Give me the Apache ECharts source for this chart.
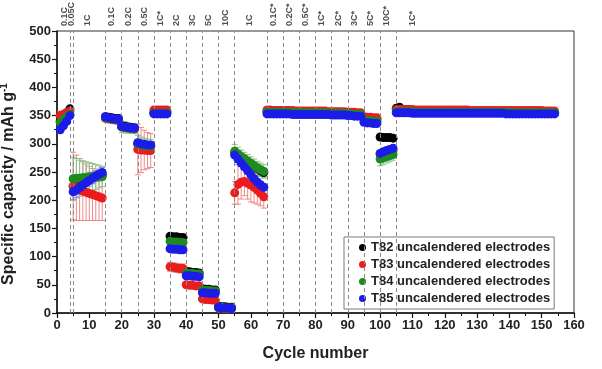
<!DOCTYPE html>
<html><head><meta charset="utf-8">
<script src="https://cdn.jsdelivr.net/npm/echarts@6/dist/echarts.min.js"></script>
<style>html,body{margin:0;padding:0;background:#fff}#c{width:602px;height:369px}</style>
</head><body><div id="c"></div>
<script>
const seriesNames = ['T82 uncalendered electrodes','T83 uncalendered electrodes','T84 uncalendered electrodes','T85 uncalendered electrodes'];
const firstCycle = 1;

const t82 = [340,348,355,362,
 225,228,232,235,237,239,240,242,243,245,
 348,347,346,345,345,
 332,331,330,329,328,
 300,298,297,296,295,
 356,356,357,357,357,
 136,135,135,134,134,
 74,73,72,72,71,
 43,42,42,41,41,
 12,11,11,10,10,
 284,280,276,272,268,264,260,256,252,249,
 358,358,358,358,358,
 358,358,357,357,357,
 357,357,357,357,357,
 357,357,356,356,356,
 356,356,356,355,355,
 354,354,353,353,353,
 345,344,344,343,343,
 312,311,311,311,310,
 363,365,361,360,360,359,359,359,359,359,
 358,358,358,358,358,358,358,358,358,358,
 357,357,357,357,357,357,357,357,357,357,
 357,357,357,357,357,356,356,356,356,356,
 356,356,356,356,356,356,356,356,356,356];

const t83 = [350,352,355,358,
 225,222,219,216,214,212,210,208,206,204,
 345,344,343,342,341,
 330,329,328,327,326,
 290,289,289,288,288,
 360,360,360,360,360,
 82,81,80,79,79,
 50,49,49,48,48,
 25,24,24,23,23,
 9,9,8,8,8,
 213,228,232,233,230,227,223,218,212,206,
 360,360,359,359,359,
 359,359,359,359,358,
 358,358,358,358,358,
 358,358,358,358,357,
 357,357,357,357,357,
 356,356,356,355,355,
 348,347,347,346,346,
 282,284,286,287,288,
 361,361,361,361,361,361,360,360,360,360,
 360,360,360,360,360,360,360,360,360,360,
 360,360,360,359,359,359,359,359,359,359,
 359,359,359,359,359,359,359,359,359,359,
 359,359,359,359,359,359,358,358,358,358];

const t84 = [338,343,348,352,
 238,239,239,240,240,241,241,241,242,242,
 346,345,344,343,343,
 330,329,328,327,327,
 300,298,297,296,296,
 354,354,354,354,354,
 127,126,126,125,125,
 71,70,70,69,69,
 41,40,40,39,39,
 10,10,9,9,9,
 287,282,277,273,269,265,261,257,254,251,
 356,356,356,356,356,
 356,356,356,355,355,
 355,355,355,355,355,
 355,355,355,355,354,
 354,354,354,354,354,
 353,353,352,352,352,
 342,341,341,340,340,
 273,275,277,279,281,
 357,357,357,357,357,357,357,356,356,356,
 356,356,356,356,356,356,356,356,356,356,
 356,356,356,356,356,356,356,356,356,356,
 356,356,356,356,356,355,355,355,355,355,
 355,355,355,355,355,355,355,355,355,355];

const t85 = [325,332,340,350,
 215,218,222,227,231,235,239,243,246,249,
 348,346,345,344,344,
 331,330,329,328,328,
 302,300,299,298,298,
 353,353,353,353,353,
 114,113,113,112,112,
 66,66,65,65,64,
 36,36,35,35,35,
 10,9,9,9,8,
 280,273,266,259,252,245,238,232,227,223,
 353,353,353,353,353,
 353,353,353,352,352,
 352,352,352,352,352,
 352,352,352,352,352,
 351,351,351,351,351,
 350,350,349,349,349,
 338,337,337,336,336,
 283,286,288,290,292,
 355,355,355,355,355,354,354,354,354,354,
 354,354,354,354,354,354,354,354,354,354,
 354,354,354,354,354,354,354,354,354,354,
 354,354,354,354,353,353,353,353,353,353,
 353,353,353,353,353,353,353,353,353,353];

const err82 = [4,4,4,4,
 12,12,11,11,10,10,10,9,9,9,
 3,3,3,3,3, 4,4,4,4,4, 6,6,6,6,6, 2,2,2,2,2,
 4,4,4,4,4, 3,3,3,3,3, 2,2,2,2,2, 1,1,1,1,1,
 8,8,8,8,8,8,8,8,8,8,
 2,2,2,2,2, 2,2,2,2,2, 2,2,2,2,2, 2,2,2,2,2,
 2,2,2,2,2, 2,2,2,2,2, 3,3,3,3,3, 4,4,4,4,4,
 2,2,2,2,2,2,2,2,2,2, 2,2,2,2,2,2,2,2,2,2, 2,2,2,2,2,2,2,2,2,2,
 2,2,2,2,2,2,2,2,2,2, 2,2,2,2,2,2,2,2,2,2];

const err83 = [8,6,5,5,
 60,58,55,52,50,48,46,44,42,40,
 5,5,5,5,5, 5,5,5,5,5, 45,40,35,32,30, 3,3,3,3,3,
 8,8,8,8,8, 5,5,5,5,5, 4,4,4,4,4, 3,3,3,3,3,
 20,35,30,25,28,30,28,25,22,20,
 2,2,2,2,2, 2,2,2,2,2, 2,2,2,2,2, 2,2,2,2,2,
 2,2,2,2,2, 2,2,2,2,2, 3,3,3,3,3, 5,5,5,5,5,
 2,2,2,2,2,2,2,2,2,2, 2,2,2,2,2,2,2,2,2,2, 2,2,2,2,2,2,2,2,2,2,
 2,2,2,2,2,2,2,2,2,2, 2,2,2,2,2,2,2,2,2,2];

const err84 = [5,5,5,5,
 38,35,32,30,28,26,24,22,20,18,
 5,5,5,5,5, 10,10,9,9,8, 15,14,13,12,12, 3,3,3,3,3,
 5,5,5,5,5, 4,4,4,4,4, 3,3,3,3,3, 2,2,2,2,2,
 12,12,12,12,12,12,12,12,12,12,
 2,2,2,2,2, 2,2,2,2,2, 2,2,2,2,2, 2,2,2,2,2,
 2,2,2,2,2, 2,2,2,2,2, 3,3,3,3,3, 12,12,11,11,10,
 2,2,2,2,2,2,2,2,2,2, 2,2,2,2,2,2,2,2,2,2, 2,2,2,2,2,2,2,2,2,2,
 2,2,2,2,2,2,2,2,2,2, 2,2,2,2,2,2,2,2,2,2];

const err85 = [6,5,5,4,
 14,13,12,11,11,10,10,10,9,9,
 3,3,3,3,3, 4,4,4,4,4, 6,6,6,6,6, 2,2,2,2,2,
 4,4,4,4,4, 3,3,3,3,3, 2,2,2,2,2, 1,1,1,1,1,
 6,6,6,6,6,6,6,6,6,6,
 2,2,2,2,2, 2,2,2,2,2, 2,2,2,2,2, 2,2,2,2,2,
 2,2,2,2,2, 2,2,2,2,2, 3,3,3,3,3, 6,6,6,6,6,
 2,2,2,2,2,2,2,2,2,2, 2,2,2,2,2,2,2,2,2,2, 2,2,2,2,2,2,2,2,2,2,
 2,2,2,2,2,2,2,2,2,2, 2,2,2,2,2,2,2,2,2,2];

const rateLabels = ['0.1C','0.05C','1C','0.1C','0.2C','0.5C','1C*','2C','3C','5C','10C','1C',
  '0.1C*','0.2C*','0.5C*','1C*','2C*','3C*','5C*','10C*','1C*'];
const rateLabelCycles = [2.3,4.5,9.5,17,22,27,32,37,42,47,52,59.5,67,72,77,82,87,92,97,102,110];
const dividerCycles = [4,5,15,20,25,30,35,40,45,50,55,65,70,75,80,85,90,95,100,105];

const colors = ['#000000','#ec1c1c','#1f8a1f','#1c1ce8'];
const errColors = ['#8a8a8a','#f08888','#88c488','#8c8cf0'];
const allData = [t82,t83,t84,t85];
const allErr = [err82,err83,err84,err85];

function errRender(color){
  return function(params, api){
    const x = api.value(0), lo = api.value(1), hi = api.value(2);
    const a = api.coord([x, lo]), b = api.coord([x, hi]);
    const w = 3;
    const st = {stroke: color, lineWidth: 1};
    return {type:'group', children:[
      {type:'line', shape:{x1:a[0],y1:a[1],x2:b[0],y2:b[1]}, style:st},
      {type:'line', shape:{x1:a[0]-w,y1:a[1],x2:a[0]+w,y2:a[1]}, style:st},
      {type:'line', shape:{x1:b[0]-w,y1:b[1],x2:b[0]+w,y2:b[1]}, style:st}
    ]};
  };
}

const series = [];
series.push({
  name: 'rates', type: 'scatter', symbolSize: 0, silent: true, z: 1,
  data: rateLabelCycles.map((c,i)=>[c, 500, rateLabels[i]]),
  label: {show: true, position: 'top', distance: 5, rotate: 90, align: 'left', verticalAlign: 'middle',
    formatter: p => p.value[2], fontSize: 9, fontWeight: 'bold', color: '#222', fontFamily: 'Liberation Sans, Arial'},
  markLine: {silent: true, symbol: ['none','none'], label: {show: false},
    lineStyle: {type: [4,3], color: '#8a8a8a', width: 1},
    data: dividerCycles.map(c => ({xAxis: c}))}
});
allErr.forEach((e, k) => {
  const d = [];
  e.forEach((v, i) => { if (v > 0) d.push([firstCycle + i, allData[k][i] - v, allData[k][i] + v]); });
  series.push({name: 'err' + k, type: 'custom', renderItem: errRender(errColors[k]), data: d, z: 2, silent: true,
    encode: {x: 0, y: [1, 2]}});
});
allData.forEach((arr, k) => {
  series.push({name: seriesNames[k], type: 'scatter', symbol: 'circle', symbolSize: 9, z: 3 + k,
    itemStyle: {color: colors[k], opacity: 1},
    data: arr.map((v, i) => [firstCycle + i, v])});
});

const chart = echarts.init(document.getElementById('c'));
const font = 'Liberation Sans, Arial, sans-serif';
chart.setOption({
  animation: false,
  textStyle: {fontFamily: font},
  grid: {left: 57, right: 28, top: 31, bottom: 56, show: true, borderColor: '#333', borderWidth: 1,
    containLabel: false, outerBoundsMode: 'none'},
  legend: {
    data: seriesNames, orient: 'vertical', left: 344, top: 237,
    icon: 'circle', itemWidth: 7, itemHeight: 7, itemGap: 4, itemTextGap: 10,
    padding: [4, 4, 4, 15], borderColor: '#7a7a7a', borderWidth: 1, backgroundColor: '#fff',
    textStyle: {fontSize: 13, fontWeight: 'bold', color: '#222', fontFamily: font, lineHeight: 13}
  },
  xAxis: {
    type: 'value', min: 0, max: 160, interval: 10,
    name: 'Cycle number', nameLocation: 'middle', nameGap: 33,
    nameTextStyle: {fontSize: 16, fontWeight: 'bold', color: '#222'},
    axisLine: {show: true, onZero: false, lineStyle: {color: '#111', width: 1.5}},
    axisTick: {show: true, length: 5, lineStyle: {color: '#111', width: 1.2}},
    minorTick: {show: true, splitNumber: 2, length: 3, lineStyle: {color: '#111'}},
    splitLine: {show: false},
    axisLabel: {fontSize: 13, fontWeight: 'bold', color: '#222', margin: 6}
  },
  yAxis: {
    type: 'value', min: 0, max: 500, interval: 50,
    name: 'Specific capacity / mAh g{s|-1}', nameLocation: 'middle', nameGap: 35,
    nameTextStyle: {fontSize: 16, fontWeight: 'bold', color: '#222', lineHeight: 19, padding: [0, 24, 0, 0],
      rich: {s: {fontSize: 10, fontWeight: 'bold', color: '#222', verticalAlign: 'top', lineHeight: 19}}},
    axisLine: {show: true, onZero: false, lineStyle: {color: '#111', width: 1.5}},
    axisTick: {show: true, length: 5, lineStyle: {color: '#111', width: 1.2}},
    minorTick: {show: true, splitNumber: 2, length: 3, lineStyle: {color: '#111'}},
    splitLine: {show: false},
    axisLabel: {fontSize: 13, fontWeight: 'bold', color: '#222', margin: 6}
  },
  series: series
});
</script></body></html>
